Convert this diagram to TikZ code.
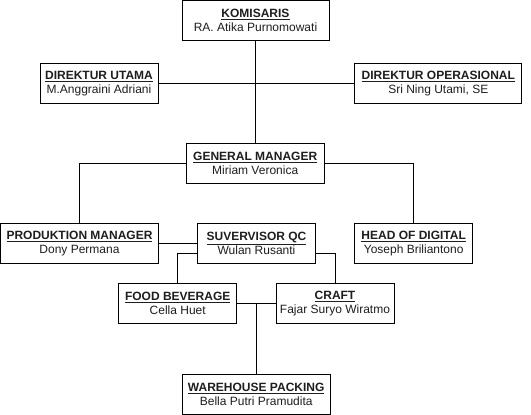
\documentclass[tikz,border=0pt]{standalone}
\usepackage{fontspec}
\setmainfont{Liberation Sans}
\usetikzlibrary{positioning}
\definecolor{OrgLine}{RGB}{0,0,0}
\definecolor{OrgText}{RGB}{30,30,30}

\begin{document}
\begin{tikzpicture}[
x=1pt,y=-1pt,
box/.style={rectangle,draw=OrgLine,fill=white,line width=1pt,
minimum height=40pt,inner sep=0pt,align=center,text=OrgText,
font=\fontsize{12}{14}\selectfont},
link/.style={draw=OrgLine,line width=1pt}
]
\useasboundingbox (0,0) rectangle (531,415);
\node[box,minimum width=147pt] (kom) at (255.5,20.3) {\underline{\textbf{KOMISARIS}}\\RA. Atika Purnomowati};
\node[box,minimum width=118pt] (dirut) at (99,83.3) {\underline{\textbf{DIREKTUR UTAMA}}\\M.Anggraini Adriani};
\node[box,minimum width=167pt] (dirop) at (438.3,83.3) {\underline{\textbf{DIREKTUR OPERASIONAL}}\\Sri Ning Utami, SE};
\node[box,minimum width=138pt] (gm) at (255.2,163.5) {\underline{\textbf{GENERAL MANAGER}}\\Miriam Veronica};
\node[box,minimum width=158pt] (pm) at (79.5,243.3) {\underline{\textbf{PRODUKTION MANAGER}}\\Dony Permana};
\node[box,minimum width=118pt] (sqc) at (256.5,243.3) {\underline{\textbf{SUVERVISOR QC}}\\Wulan Rusanti};
\node[box,minimum width=118pt] (hod) at (413.7,243.3) {\underline{\textbf{HEAD OF DIGITAL}}\\Yoseph Briliantono};
\node[box,minimum width=118pt] (fb) at (177.7,303.3) {\underline{\textbf{FOOD BEVERAGE}}\\Cella Huet};
\node[box,minimum width=118pt] (craft) at (335,303.3) {\underline{\textbf{CRAFT}}\\Fajar Suryo Wiratmo};
\node[box,minimum width=148pt] (wp) at (256.2,394.3) {\underline{\textbf{WAREHOUSE PACKING}}\\Bella Putri Pramudita};
% connectors
\draw[link] (kom.south) -- (kom.south |- gm.north);
\draw[link] (dirut.east) -- (dirop.west);
\draw[link] (gm.west) -| (pm.north);
\draw[link] (gm.east) -| (hod.north);
\draw[link] (pm.east) -- (sqc.west);
\draw[link] ([yshift=-10pt]sqc.west) -| (fb.north);
\draw[link] ([yshift=-10pt]sqc.east) -| (craft.north);
\draw[link] (fb.east) -- (craft.west);
\draw[link] (wp.north) -- (wp.north |- fb.east);
\end{tikzpicture}
\end{document}
